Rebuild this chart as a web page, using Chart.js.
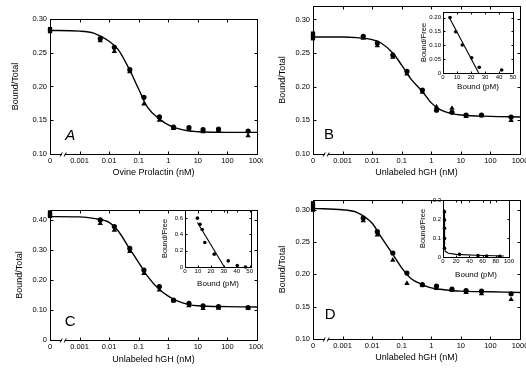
<!DOCTYPE html>
<html>
<head>
<meta charset="utf-8">
<script src="https://cdn.jsdelivr.net/npm/chart.js@4.4.1/dist/chart.umd.min.js"></script>
<style>
html, body { margin: 0; padding: 0; background: #fff; }
#page { position: relative; width: 526px; height: 370px; overflow: hidden; background: #fff; }
canvas { position: absolute; }
</style>
</head>
<body>
<div id="page"></div>
<script>
// Dosis (nM). El "0" se dibuja una década a la izquierda de 0.001
const zeroDose = 0.0001;
const doses = [0.005, 0.015, 0.05, 0.15, 0.5, 1.5, 5, 15, 50, 500];
const curveDoses = [0.0001, 0.001, 0.003, 0.01, 0.02, 0.05, 0.1, 0.2, 0.5, 1, 2, 5, 10, 100, 1000];
const xTicks = [0.0001, 0.001, 0.01, 0.1, 1, 10, 100, 1000];
const xTickLabels = ['0', '0.001', '0.01', '0.1', '1', '10', '100', '1000'];

// Panel A - Ovine Prolactin
const zeroA = [0.285, 0.282];
const circlesA = [0.271, 0.258, 0.225, 0.184, 0.155, 0.140, 0.139, 0.136, 0.137, 0.134];
const trianglesA = [0.268, 0.252, 0.222, 0.174, 0.150, 0.138, 0.137, 0.133, 0.135, 0.127];
const curveA = [0.283, 0.282, 0.279, 0.267, 0.255, 0.224, 0.196, 0.169, 0.152, 0.143, 0.138, 0.134, 0.133, 0.132, 0.132];
const yTicksA = [0.10, 0.15, 0.20, 0.25, 0.30];
const yLabelsA = ['0.10', '0.15', '0.20', '0.25', '0.30'];

// Panel B - Unlabeled hGH
const zeroB = [0.279, 0.275, 0.272];
const circlesB = [0.275, 0.265, 0.247, 0.223, 0.195, 0.165, 0.162, 0.158, 0.158, 0.155];
const trianglesB = [0.272, 0.261, 0.244, 0.219, 0.192, 0.170, 0.168, 0.156, 0.157, 0.150];
const curveB = [0.274, 0.274, 0.273, 0.270, 0.265, 0.250, 0.232, 0.212, 0.193, 0.176, 0.166, 0.160, 0.158, 0.156, 0.155];
const yTicksB = [0.10, 0.15, 0.20, 0.25, 0.30];
const yLabelsB = ['0.10', '0.15', '0.20', '0.25', '0.30'];

// Panel C - Unlabeled hGH
const zeroC = [0.425, 0.418, 0.413];
const circlesC = [0.400, 0.378, 0.305, 0.233, 0.178, 0.133, 0.122, 0.114, 0.111, 0.108];
const trianglesC = [0.388, 0.366, 0.295, 0.222, 0.167, 0.130, 0.114, 0.105, 0.106, 0.105];
const curveC = [0.411, 0.410, 0.405, 0.392, 0.364, 0.303, 0.258, 0.212, 0.168, 0.146, 0.130, 0.118, 0.114, 0.111, 0.110];
const yTicksC = [0, 0.10, 0.20, 0.30, 0.40];
const yLabelsC = ['0', '0.10', '0.20', '0.30', '0.40'];

// Panel D - Unlabeled hGH
const zeroD = [0.310, 0.305, 0.300];
const circlesD = [0.287, 0.266, 0.233, 0.202, 0.184, 0.182, 0.177, 0.175, 0.174, 0.170];
const trianglesD = [0.283, 0.261, 0.222, 0.186, 0.183, 0.178, 0.175, 0.172, 0.170, 0.161];
const curveD = [0.302, 0.300, 0.296, 0.279, 0.258, 0.231, 0.210, 0.194, 0.184, 0.179, 0.177, 0.175, 0.174, 0.173, 0.172];
const yTicksD = [0.10, 0.15, 0.20, 0.25, 0.30];
const yLabelsD = ['0.10', '0.15', '0.20', '0.25', '0.30'];

// Insets Scatchard (Bound pM vs Bound/Free)
const boundB = [5, 9.1, 13.8, 20.5, 25.9, 41.9];
const ratioB = [0.200, 0.149, 0.101, 0.055, 0.021, 0.011];
const fitBoundB = [4.5, 25.5];
const fitRatioB = [0.200, 0];
const insetXTicksB = [0, 10, 20, 30, 40, 50];
const insetYTicksB = [0, 0.05, 0.10, 0.15, 0.20];
const insetYLabelsB = ['0', '0.05', '0.10', '0.15', '0.20'];

const boundC = [9.6, 11.6, 13.3, 15.3, 22.6, 33.4, 40.4, 46.7];
const ratioC = [0.60, 0.525, 0.46, 0.30, 0.158, 0.075, 0.017, 0.0];
const fitBoundC = [9.6, 30.4];
const fitRatioC = [0.546, 0];
const insetXTicksC = [0, 10, 20, 30, 40, 50];
const insetYTicksC = [0, 0.2, 0.4, 0.6];
const insetYLabelsC = ['0', '0.2', '0.4', '0.6'];

const boundD = [2.3, 2.3, 2.3, 2.3, 2.3, 25, 53, 66, 86];
const ratioD = [0.238, 0.195, 0.151, 0.098, 0.046, 0.014, 0.007, 0.005, 0.004];
const fitBoundD = [2.0, 2.4, 3.5, 8, 20, 50, 92];
const fitRatioD = [0.250, 0.050, 0.030, 0.020, 0.014, 0.009, 0.005];
const insetXTicksD = [0, 20, 40, 60, 80, 100];
const insetYTicksD = [0, 0.1, 0.2, 0.3];
const insetYLabelsD = ['0', '0.1', '0.2', '0.3'];

Chart.defaults.font.family = "'Liberation Sans', Arial, sans-serif";
Chart.defaults.color = '#000';

const ink = '#000';

// Marco completo con marcas hacia dentro, corte del eje y letra del panel
const framePlugin = {
    id: 'frame',
    beforeDatasetsDraw(chart, args, opts) {
        const { ctx, chartArea: a, scales: { x, y } } = chart;
        const L = Math.round(a.left) + 0.5, R = Math.round(a.right) + 0.5;
        const T = Math.round(a.top) + 0.5, B = Math.round(a.bottom) + 0.5;
        const t = opts.tick;
        ctx.save();
        ctx.strokeStyle = ink;
        ctx.lineWidth = 1;
        ctx.strokeRect(L, T, R - L, B - T);
        ctx.beginPath();
        x.ticks.forEach(tk => {
            const px = Math.round(x.getPixelForValue(tk.value)) + 0.5;
            ctx.moveTo(px, B); ctx.lineTo(px, B - t);
            ctx.moveTo(px, T); ctx.lineTo(px, T + t);
        });
        y.ticks.forEach(tk => {
            const py = Math.round(y.getPixelForValue(tk.value)) + 0.5;
            ctx.moveTo(L, py); ctx.lineTo(L + t, py);
            ctx.moveTo(R, py); ctx.lineTo(R - t, py);
        });
        ctx.stroke();
        if (opts.breakAt) {
            const bx = x.getPixelForValue(opts.breakAt);
            ctx.fillStyle = '#fff';
            ctx.fillRect(bx - 1.5, B - 2, 3, 4);
            ctx.beginPath();
            ctx.moveTo(bx - 3, B + 2); ctx.lineTo(bx - 1, B - 2);
            ctx.moveTo(bx + 1, B + 2); ctx.lineTo(bx + 3, B - 2);
            ctx.stroke();
        }
        if (opts.letter) {
            ctx.font = opts.letter.font;
            ctx.fillStyle = ink;
            ctx.textAlign = 'center';
            ctx.textBaseline = 'middle';
            ctx.fillText(opts.letter.text, x.getPixelForValue(opts.letter.x), y.getPixelForValue(opts.letter.y));
        }
        ctx.restore();
    }
};

// Posición de cada área de trazado en la página
const mainBoxes = {
    A: { l: 50, t: 19, r: 257, b: 154, yTitleX: 16, xTitleY: 173 },
    B: { l: 313, t: 6, r: 520, b: 154, yTitleX: 283, xTitleY: 173 },
    C: { l: 50, t: 210, r: 257, b: 340, yTitleX: 20, xTitleY: 360 },
    D: { l: 313, t: 200, r: 520, b: 339, yTitleX: 283, xTitleY: 358 }
};
const insetBoxes = {
    B: { l: 443, t: 12, r: 513, b: 73, yTitleX: 424, xTitleY: 87 },
    C: { l: 185, t: 210, r: 251, b: 267, yTitleX: 165, xTitleY: 284 },
    D: { l: 443, t: 200, r: 509, b: 257, yTitleX: 423, xTitleY: 275 }
};
const mainSizes = { axisW: 50, axisH: 30, padT: 6, padR: 6, tickFont: 7.5, titleFont: 9, tick: 3, yPad: 3, xPad: 2 };
const insetSizes = { axisW: 26, axisH: 23, padT: 4, padR: 5, tickFont: 6, titleFont: 7.5, xTitleFont: 8, tick: 2, yPad: 2, xPad: 1 };

function buildChart(box, sz, xs, ys, datasets, frame) {
    const canvas = document.createElement('canvas');
    const left = box.l - sz.axisW, top = box.t - sz.padT;
    canvas.width = box.r - box.l + sz.axisW + sz.padR;
    canvas.height = box.b - box.t + sz.padT + sz.axisH;
    canvas.style.left = left + 'px';
    canvas.style.top = top + 'px';
    document.getElementById('page').appendChild(canvas);

    const xTitleSize = sz.xTitleFont || sz.titleFont;
    const yLh = sz.titleFont * 1.2, xLh = xTitleSize * 1.2;

    return new Chart(canvas.getContext('2d'), {
        type: 'scatter',
        data: { datasets },
        options: {
            responsive: false,
            animation: false,
            devicePixelRatio: 1,
            layout: { padding: { top: sz.padT, right: sz.padR, left: 0, bottom: 0 } },
            plugins: { legend: { display: false }, tooltip: { enabled: false }, frame },
            scales: {
                x: {
                    type: xs.type, min: xs.min, max: xs.max,
                    grid: { display: false, drawTicks: false },
                    border: { display: false },
                    afterBuildTicks: s => { s.ticks = xs.ticks.map(v => ({ value: v })); },
                    afterFit: s => { s.height = sz.axisH; s.paddingLeft = 0; s.paddingRight = 0; },
                    ticks: {
                        autoSkip: false, maxRotation: 0, minRotation: 0, padding: sz.xPad,
                        font: { size: sz.tickFont },
                        callback: (v, i) => xs.labels[i]
                    },
                    title: {
                        display: true, text: xs.title, font: { size: xTitleSize },
                        padding: { top: 0, bottom: (top + canvas.height) - box.xTitleY - xLh / 2 }
                    }
                },
                y: {
                    type: 'linear', min: ys.min, max: ys.max,
                    grid: { display: false, drawTicks: false },
                    border: { display: false },
                    afterBuildTicks: s => { s.ticks = ys.ticks.map(v => ({ value: v })); },
                    afterFit: s => { s.width = sz.axisW; s.paddingTop = 0; s.paddingBottom = 0; },
                    ticks: {
                        autoSkip: false, padding: sz.yPad,
                        font: { size: sz.tickFont },
                        callback: (v, i) => ys.labels[i]
                    },
                    title: {
                        display: true, text: ys.title, font: { size: sz.titleFont },
                        padding: { top: box.yTitleX - left - yLh / 2, bottom: 0 }
                    }
                }
            }
        },
        plugins: [framePlugin]
    });
}

function pts(xv, yv) {
    return yv.map((v, i) => ({ x: xv[i], y: v }));
}

function markers(data, style, radius) {
    return { data, pointStyle: style, pointRadius: radius, backgroundColor: ink, borderWidth: 0, showLine: false, clip: false };
}

function fitLine(data, smooth, width) {
    return {
        data, showLine: true, borderColor: ink, borderWidth: width, pointRadius: 0,
        cubicInterpolationMode: smooth ? 'monotone' : 'default', tension: 0, clip: false
    };
}

function mainPanel(key, zero, circles, triangles, curve, yMin, yMax, yTicks, yLabels, xTitle, letter) {
    buildChart(mainBoxes[key], mainSizes,
        { type: 'logarithmic', min: 0.0001, max: 1000, ticks: xTicks, labels: xTickLabels, title: xTitle },
        { min: yMin, max: yMax, ticks: yTicks, labels: yLabels, title: 'Bound/Total' },
        [
            fitLine(pts(curveDoses, curve), true, 1.4),
            markers(zero.map(v => ({ x: zeroDose, y: v })), 'rect', 3),
            markers(pts(doses, circles), 'circle', 2.6),
            markers(pts(doses, triangles), 'triangle', 3.1)
        ],
        { tick: mainSizes.tick, breakAt: 0.00028, letter }
    );
}

function insetPanel(key, bound, ratio, fitX, fitY, xMax, yMax, xT, yT, yL) {
    buildChart(insetBoxes[key], insetSizes,
        { type: 'linear', min: 0, max: xMax, ticks: xT, labels: xT.map(String), title: 'Bound (pM)' },
        { min: 0, max: yMax, ticks: yT, labels: yL, title: 'Bound/Free' },
        [
            fitLine(pts(fitX, fitY), false, 1.1),
            markers(pts(bound, ratio), 'circle', 1.8)
        ],
        { tick: insetSizes.tick }
    );
}

mainPanel('A', zeroA, circlesA, trianglesA, curveA, 0.10, 0.30, yTicksA, yLabelsA, 'Ovine Prolactin (nM)',
    { text: 'A', x: 0.00048, y: 0.1267, font: "italic 15px 'Liberation Sans', Arial, sans-serif" });
mainPanel('B', zeroB, circlesB, trianglesB, curveB, 0.10, 0.32, yTicksB, yLabelsB, 'Unlabeled hGH (nM)',
    { text: 'B', x: 0.00035, y: 0.128, font: "15px 'Liberation Sans', Arial, sans-serif" });
mainPanel('C', zeroC, circlesC, trianglesC, curveC, 0, 0.433, yTicksC, yLabelsC, 'Unlabeled hGH (nM)',
    { text: 'C', x: 0.00048, y: 0.06, font: "15px 'Liberation Sans', Arial, sans-serif" });
mainPanel('D', zeroD, circlesD, trianglesD, curveD, 0.10, 0.315, yTicksD, yLabelsD, 'Unlabeled hGH (nM)',
    { text: 'D', x: 0.00038, y: 0.137, font: "15px 'Liberation Sans', Arial, sans-serif" });

insetPanel('B', boundB, ratioB, fitBoundB, fitRatioB, 50, 0.22, insetXTicksB, insetYTicksB, insetYLabelsB);
insetPanel('C', boundC, ratioC, fitBoundC, fitRatioC, 51, 0.7, insetXTicksC, insetYTicksC, insetYLabelsC);
insetPanel('D', boundD, ratioD, fitBoundD, fitRatioD, 100, 0.3, insetXTicksD, insetYTicksD, insetYLabelsD);
</script>
</body>
</html>
